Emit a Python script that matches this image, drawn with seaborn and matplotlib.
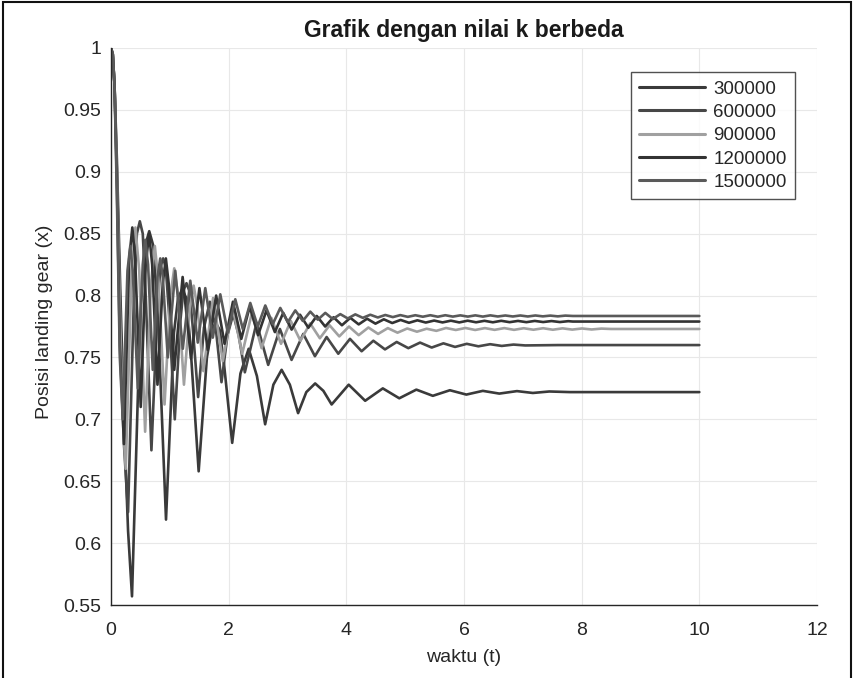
import matplotlib
matplotlib.use("Agg")
import matplotlib.pyplot as plt
from matplotlib.patches import Rectangle
from matplotlib.lines import Line2D
import numpy as np
import pandas as pd
import seaborn as sns

# ---------------- data (time, position) ----------------
k_labels = ["300000", "600000", "900000", "1200000", "1500000"]

k300000 = [(0, 1.0), (0.03, 0.995), (0.06, 0.97), (0.10, 0.91), (0.16, 0.80), (0.22, 0.70),
           (0.29, 0.61), (0.357, 0.557), (0.50, 0.79), (0.58, 0.84), (0.65, 0.852), (0.72, 0.84),
           (0.80, 0.78), (0.935, 0.619), (1.07, 0.77), (1.14, 0.798), (1.21, 0.805), (1.28, 0.798),
           (1.35, 0.76), (1.49, 0.658), (1.63, 0.75), (1.71, 0.772), (1.78, 0.778), (1.85, 0.772),
           (1.92, 0.745), (2.06, 0.681), (2.20, 0.737), (2.34, 0.757), (2.48, 0.735), (2.62, 0.696),
           (2.76, 0.728), (2.90, 0.740), (3.04, 0.728), (3.18, 0.705), (3.32, 0.722),
           (3.47, 0.729), (3.61, 0.723), (3.75, 0.712), (4.04, 0.728),
           (4.32, 0.715), (4.62, 0.725), (4.90, 0.717), (5.19, 0.724), (5.47, 0.719),
           (5.76, 0.7235), (6.04, 0.720), (6.32, 0.723), (6.60, 0.7208), (6.90, 0.7228),
           (7.17, 0.7213), (7.45, 0.7225), (7.8, 0.722), (10.0, 0.722)]

k600000 = [(0, 1.0), (0.03, 0.995), (0.06, 0.97), (0.10, 0.90), (0.16, 0.78), (0.22, 0.68),
           (0.29, 0.625), (0.39, 0.80), (0.44, 0.85), (0.49, 0.86), (0.54, 0.85), (0.59, 0.80),
           (0.687, 0.675), (0.79, 0.79), (0.84, 0.823), (0.886, 0.83), (0.93, 0.823), (0.98, 0.79),
           (1.084, 0.700), (1.18, 0.78), (1.23, 0.804), (1.283, 0.81), (1.33, 0.804), (1.38, 0.78),
           (1.481, 0.718), (1.58, 0.774), (1.68, 0.795), (1.78, 0.774), (1.878, 0.730),
           (1.98, 0.768), (2.077, 0.785), (2.17, 0.768), (2.275, 0.738), (2.474, 0.778),
           (2.672, 0.744), (2.871, 0.773), (3.069, 0.748),
           (3.268, 0.769), (3.466, 0.751), (3.665, 0.7665), (3.863, 0.753), (4.062, 0.765),
           (4.26, 0.755), (4.459, 0.7635), (4.657, 0.7565), (4.856, 0.7625), (5.054, 0.7575),
           (5.253, 0.762), (5.451, 0.758), (5.65, 0.7614), (5.848, 0.7585), (6.047, 0.761),
           (6.245, 0.759), (6.444, 0.7607), (6.642, 0.7593), (6.841, 0.7604), (7.04, 0.7597),
           (7.6, 0.760), (10.0, 0.760)]

k900000 = [(0, 1.0), (0.03, 0.995), (0.06, 0.97), (0.10, 0.90), (0.15, 0.79), (0.20, 0.70),
           (0.25, 0.66), (0.35, 0.82), (0.415, 0.855), (0.48, 0.82), (0.58, 0.69),
           (0.68, 0.81), (0.745, 0.84), (0.81, 0.81), (0.91, 0.712),
           (1.01, 0.80), (1.075, 0.822), (1.14, 0.80), (1.24, 0.728), (1.34, 0.79),
           (1.405, 0.808), (1.47, 0.79), (1.57, 0.739), (1.735, 0.798),
           (1.90, 0.747), (2.065, 0.791), (2.23, 0.753), (2.395, 0.786), (2.56, 0.7575),
           (2.725, 0.782), (2.89, 0.761), (3.055, 0.7795), (3.22, 0.7635), (3.385, 0.7775),
           (3.55, 0.7655), (3.715, 0.776), (3.88, 0.767), (4.045, 0.775), (4.21, 0.768),
           (4.375, 0.7742), (4.54, 0.769), (4.705, 0.7737), (4.87, 0.770), (5.035, 0.7734),
           (5.2, 0.7708), (5.365, 0.7732), (5.53, 0.7715), (5.695, 0.7738), (5.86, 0.7722),
           (6.025, 0.7738), (6.19, 0.7722), (6.355, 0.7737), (6.52, 0.7723), (6.685, 0.7737),
           (6.85, 0.7723), (7.015, 0.7736), (7.18, 0.7724), (7.345, 0.7736), (7.51, 0.7724),
           (7.675, 0.7735), (7.84, 0.7725), (8.005, 0.7734), (8.17, 0.7726), (8.335, 0.7733),
           (8.5, 0.773), (10.0, 0.773)]

k1200000 = [(0, 1.0), (0.03, 0.995), (0.06, 0.97), (0.10, 0.89), (0.15, 0.76), (0.22, 0.68),
            (0.31, 0.83), (0.3625, 0.855), (0.41, 0.83), (0.505, 0.71), (0.59, 0.825),
            (0.6475, 0.85), (0.70, 0.825), (0.79, 0.728), (0.88, 0.81), (0.9325, 0.83),
            (0.98, 0.81), (1.075, 0.74), (1.2175, 0.815), (1.36, 0.749), (1.5025, 0.806), (1.645, 0.756),
            (1.7875, 0.80), (1.93, 0.761), (2.0725, 0.795), (2.215, 0.765), (2.3575, 0.791),
            (2.5, 0.768), (2.6425, 0.788), (2.785, 0.7705), (2.9275, 0.786), (3.07, 0.7725),
            (3.2125, 0.7845), (3.355, 0.774), (3.4975, 0.7835), (3.64, 0.775), (3.7825, 0.7825),
            (3.925, 0.776), (4.0675, 0.782), (4.21, 0.7767), (4.3525, 0.7813), (4.495, 0.7773),
            (4.6375, 0.7808), (4.78, 0.7778), (4.9225, 0.7803), (5.065, 0.778), (5.2075, 0.780),
            (5.35, 0.7782), (5.4925, 0.7798), (5.635, 0.7783), (5.7775, 0.7797), (5.92, 0.7783),
            (6.0625, 0.7797), (6.205, 0.7784), (6.3475, 0.7796), (6.49, 0.7784), (6.6325, 0.7796),
            (6.775, 0.7785), (6.9175, 0.7795), (7.06, 0.7785), (7.2025, 0.7795), (7.345, 0.7786),
            (7.4875, 0.7794), (7.63, 0.7786), (7.7725, 0.7793), (7.85, 0.779), (10.0, 0.779)]

k1500000 = [(0, 1.0), (0.03, 0.995), (0.06, 0.97), (0.10, 0.88), (0.15, 0.75), (0.20, 0.70),
            (0.28, 0.82), (0.3275, 0.84), (0.37, 0.82), (0.455, 0.725), (0.54, 0.825),
            (0.5825, 0.845), (0.63, 0.825), (0.71, 0.74), (0.79, 0.815), (0.8375, 0.83),
            (0.88, 0.815), (0.965, 0.75), (1.0925, 0.82), (1.22, 0.757), (1.3475, 0.812), (1.475, 0.762),
            (1.6025, 0.806), (1.73, 0.766), (1.8575, 0.801), (1.985, 0.77), (2.1125, 0.797),
            (2.24, 0.773), (2.3675, 0.794), (2.495, 0.775), (2.6225, 0.792), (2.75, 0.777),
            (2.8775, 0.790), (3.005, 0.7785), (3.1325, 0.788), (3.26, 0.7795), (3.3875, 0.787),
            (3.515, 0.7805), (3.6425, 0.786), (3.77, 0.781), (3.8975, 0.785), (4.025, 0.7815),
            (4.1525, 0.7848), (4.28, 0.782), (4.4075, 0.7845), (4.535, 0.7823), (4.6625, 0.7843),
            (4.79, 0.7826), (4.9175, 0.7842), (5.045, 0.7828), (5.1725, 0.7841), (5.3, 0.7829),
            (5.4275, 0.7841), (5.555, 0.7829), (5.6825, 0.7841), (5.81, 0.783), (5.9375, 0.784),
            (6.065, 0.783), (6.1925, 0.784), (6.32, 0.783), (6.4475, 0.784), (6.575, 0.7831),
            (6.7025, 0.7839), (6.83, 0.7831), (6.9575, 0.7839), (7.085, 0.7831), (7.2125, 0.7839),
            (7.34, 0.7832), (7.4675, 0.7838), (7.595, 0.7832), (7.7225, 0.7838), (7.85, 0.7835),
            (10.0, 0.7835)]

x_ticks = [0, 2, 4, 6, 8, 10, 12]
y_ticks = [0.55, 0.6, 0.65, 0.7, 0.75, 0.8, 0.85, 0.9, 0.95, 1]
y_tick_labels = ["0.55", "0.6", "0.65", "0.7", "0.75", "0.8", "0.85", "0.9", "0.95", "1"]

title = "Grafik dengan nilai k berbeda"
xlabel = "waktu (t)"
ylabel = "Posisi landing gear (x)"

# ---------------- build long table ----------------
series = [k300000, k600000, k900000, k1200000, k1500000]
rows = []
for lab, pts in zip(k_labels, series):
    for t, x in pts:
        rows.append({"t": t, "x": x, "k": lab})
df = pd.DataFrame(rows)

colors = {"300000": "#3a3a3a", "600000": "#474747", "900000": "#a0a0a0",
          "1200000": "#333333", "1500000": "#5a5a5a"}

sns.set_style("white")
plt.rcParams["font.family"] = ["Liberation Sans", "DejaVu Sans"]

W, H = 854, 678
fig = plt.figure(figsize=(W / 100, H / 100), dpi=100)
ax = fig.add_axes([111 / W, 1 - 605 / H, (817 - 111) / W, (605 - 48) / H])

sns.lineplot(data=df, x="t", y="x", hue="k", hue_order=k_labels, palette=colors,
             estimator=None, sort=False, linewidth=1.9, ax=ax, legend=False)

ax.set_xlim(0, 12)
ax.set_ylim(0.55, 1.0)
ax.set_xticks(x_ticks)
ax.set_xticklabels([str(v) for v in x_ticks])
ax.set_yticks(y_ticks)
ax.set_yticklabels(y_tick_labels)
ax.grid(True, color="#e8e8e8", linewidth=0.8)
ax.set_axisbelow(True)
for s in ["top", "right"]:
    ax.spines[s].set_visible(False)
for s in ["left", "bottom"]:
    ax.spines[s].set_color("#262626")
    ax.spines[s].set_linewidth(1.0)
ax.tick_params(direction="in", length=5, width=1, color="#262626",
               labelsize=14, labelcolor="#262626")
ax.tick_params(axis="x", pad=12)
ax.tick_params(axis="y", pad=7)
ax.set_xlabel("")
ax.set_ylabel("")

# legend
handles = [Line2D([], [], color=colors[k], lw=2.2) for k in k_labels]
leg = ax.legend(handles, k_labels, loc="upper right",
                bbox_to_anchor=(795 / W, 1 - 72 / H), bbox_transform=fig.transFigure,
                fontsize=13.5, frameon=True, fancybox=False, edgecolor="#262626",
                handlelength=3.5, handletextpad=0.45, labelspacing=0.33,
                borderpad=0.45, borderaxespad=0)
leg.get_frame().set_linewidth(1.0)

fig.text(464 / W, 1 - 30 / H, title, ha="center", va="center",
         fontsize=16.5, fontweight="bold", color="#1a1a1a")
fig.text(464 / W, 1 - 657 / H, xlabel, ha="center", va="center",
         fontsize=14, color="#262626")
fig.text(45 / W, 1 - 322 / H, ylabel, ha="center", va="center", rotation=90,
         fontsize=14, color="#262626")

fig.add_artist(Rectangle((3 / W, -0.05), (851 - 3) / W, 1.05 - 2 / H,
                         transform=fig.transFigure, fill=False,
                         edgecolor="#111111", linewidth=1.5, clip_on=False))

fig.savefig("out.png", dpi=100)
